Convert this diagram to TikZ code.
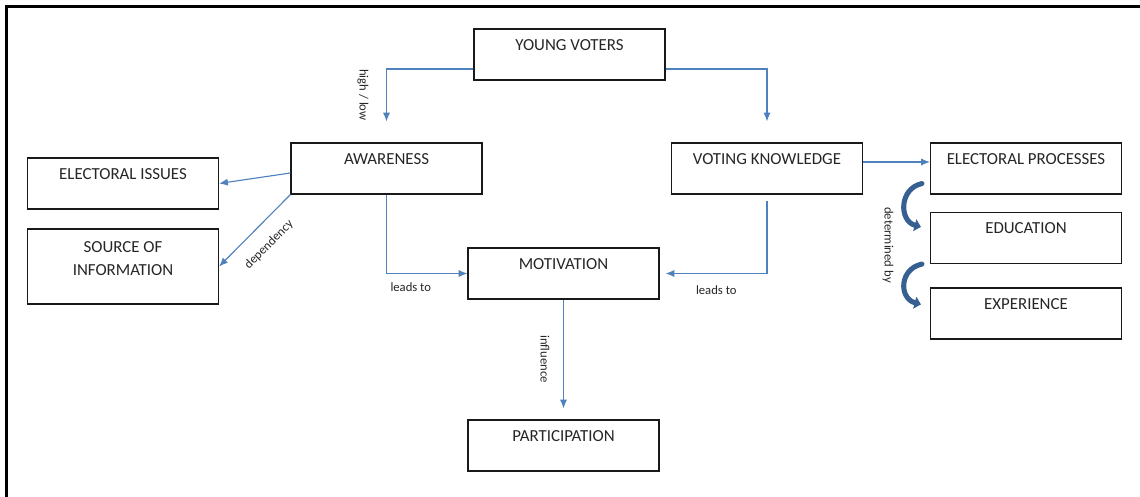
\documentclass[tikz,border=0pt]{standalone}
\usepackage{fontspec}
\setmainfont{Carlito}
\usepackage{tikz}
\usetikzlibrary{arrows.meta,positioning,calc}
\definecolor{linkblue}{RGB}{79, 129, 189}
\definecolor{darkblue}{RGB}{55, 96, 146}

\begin{document}
\begin{tikzpicture}[x=0.025cm, y=-0.025cm,
  box/.style={draw=black!90, line width=0.8pt, rectangle, minimum width=4.775cm, minimum height=1.275cm, inner sep=0pt, font=\fontsize{12}{17}\selectfont, text=black!85, align=center, text height=8pt, text depth=13.7pt},
  lbl/.style={font=\fontsize{9}{11}\selectfont, text=black!85, inner sep=1pt},
  flow/.style={draw=linkblue, line width=0.8pt, -{Latex[length=2.2mm, width=1.8mm]}},
  curlarrow/.style={draw=darkblue, line width=3.6pt, line cap=round, -{Triangle[length=1.6mm, width=3mm]}}
]
\useasboundingbox (0,0) rectangle (1140,497);

% frame
\draw[line width=1.8pt] (6.5,497) -- (6.5,6.5) -- (1140,6.5);

\node[box] (voters) at (569.5,54.5) {YOUNG VOTERS};
\node[box] (aware) at (386.5,168.5) {AWARENESS};
\node[box] (know) at (767,168.5) {VOTING KNOWLEDGE};
\node[box] (issues) at (123,183.5) {ELECTORAL ISSUES};
\node[box, minimum height=1.875cm, text height=25pt, text depth=11.5pt] (source) at (123,266.5) {SOURCE OF\\INFORMATION};
\node[box] (motiv) at (563.5,273.5) {MOTIVATION};
\node[box] (partic) at (563.5,445.5) {PARTICIPATION};
\node[box] (proc) at (1026,168.5) {ELECTORAL PROCESSES};
\node[box] (educ) at (1026,238) {EDUCATION};
\node[box] (exper) at (1026,313.5) {EXPERIENCE};

% labels
\node[lbl, rotate=-90] (hilo) at (363,95) {high / low};
\node[lbl, rotate=-90] (infl) at (545,359) {influence};
\node[lbl, rotate=-90] (detby) at (888,245) {determined by};

% Connections
\draw[flow] ($(voters.west)+(0,14.5)$) -| ($(aware.north)+(0,-21)$);
\draw[flow] ($(voters.east)+(0,14.5)$) -| ($(know.north)+(0,-21)$);
\draw[flow] ($(aware.west)+(0,4.5)$) -- (issues.east);
\draw[flow] (aware.south west) -- node[sloped, below=9pt, lbl] {dependency} (source.east);
\draw[flow] (aware.south) |- node[pos=0.65, below=5pt, lbl] {leads to} (motiv.west);
\draw[flow] ($(know.south)+(0,6)$) |- node[pos=0.75, below=7pt, lbl] {leads to} ($(motiv.east)+(6,0)$);
\draw[flow] (motiv.south) -- ($(partic.north)+(0,-11)$);
\draw[flow] ($(know.east)+(0,-6.5)$) -- ($(proc.west)+(0,-6.5)$);

\draw[curlarrow] ($(proc.south west)+(-8,-11)$) .. controls +(-23,5) and +(-22,-6) .. ($(educ.north west)+(-9,15)$);
\draw[curlarrow] ($(educ.south west)+(-8,0)$) .. controls +(-23,5) and +(-22,-6) .. ($(exper.north west)+(-9,17)$);

\end{tikzpicture}
\end{document}
